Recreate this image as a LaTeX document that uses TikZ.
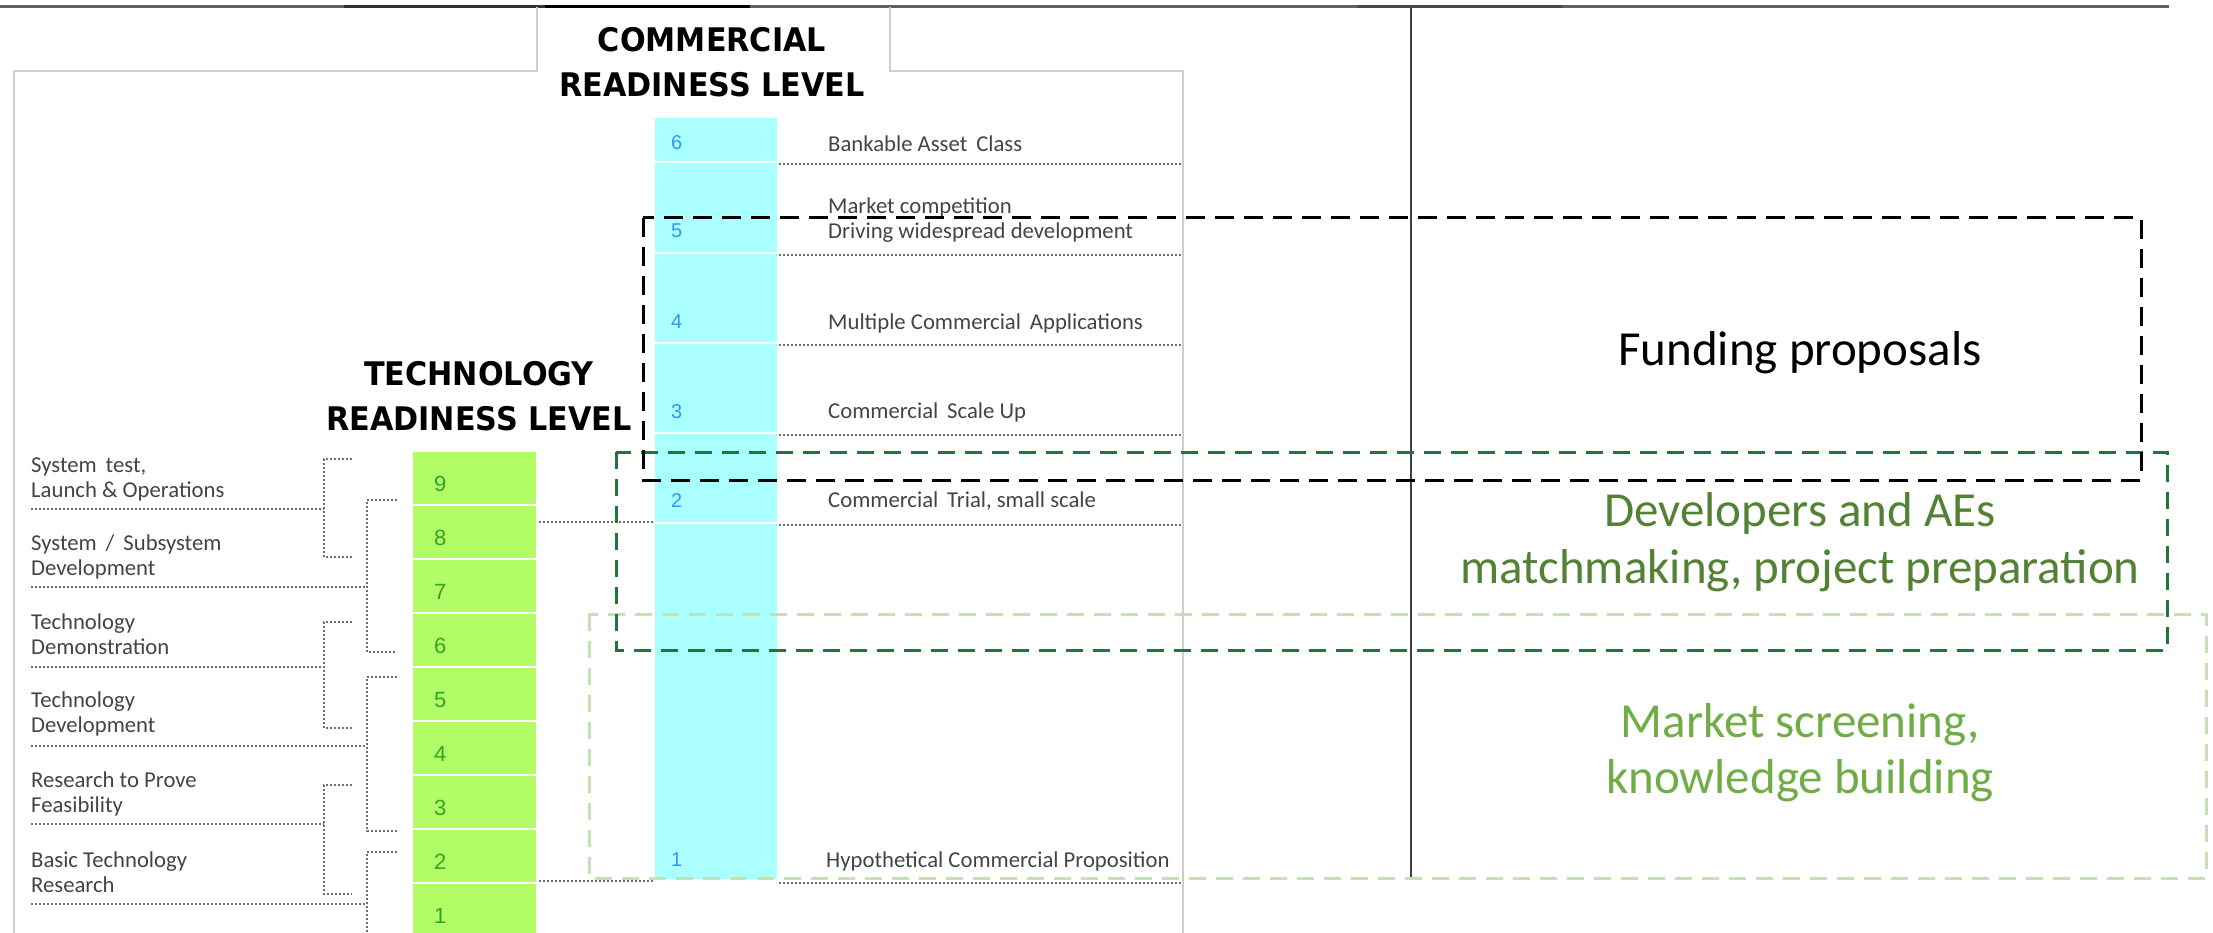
\documentclass[tikz,border=0pt]{standalone}
\usepackage{fontspec}
\usetikzlibrary{calc}
\setmainfont{Carlito}
\newfontfamily\headfont[FakeStretch=0.93]{DejaVu Sans}
\newfontfamily\digitfont{Liberation Sans}

\definecolor{cyancell}{RGB}{170,255,255}
\definecolor{limecell}{RGB}{178,252,102}
\definecolor{cnumcol}{RGB}{50,150,240}
\definecolor{tnumcol}{RGB}{50,165,40}
\definecolor{labelgray}{RGB}{64,70,70}
\definecolor{dotgray}{RGB}{110,110,110}
\definecolor{framegray}{RGB}{205,205,205}
\definecolor{boxdark}{RGB}{28,120,58}
\definecolor{boxlight}{RGB}{197,224,180}
\definecolor{txtdark}{RGB}{84,130,53}
\definecolor{txtlight}{RGB}{112,173,71}

\tikzset{
  ccell/.style={rectangle, fill=cyancell, draw=white, line width=2.5pt,
    minimum width=124pt, inner sep=0pt},
  tcell/.style={rectangle, fill=limecell, draw=white, line width=2.5pt,
    minimum width=126pt, minimum height=54pt, inner sep=0pt},
  smalltxt/.style={inner sep=0pt, anchor=base west, text=labelgray,
    font=\fontsize{22.7}{25}\selectfont},
  cnum/.style={inner sep=0pt, anchor=base west, text=cnumcol,
    font=\digitfont\fontsize{20}{20}\selectfont},
  tnum/.style={inner sep=0pt, anchor=base west, text=tnumcol,
    font=\digitfont\fontsize{22}{22}\selectfont},
  headtxt/.style={inner sep=0pt, anchor=base,
    font=\headfont\bfseries\fontsize{32.5}{36}\selectfont},
  bigtxt/.style={inner sep=0pt, anchor=base, font=\fontsize{49}{56}\selectfont},
  dotline/.style={draw=dotgray, line width=1.8pt, dash pattern=on 1.8pt off 2.2pt},
  frameline/.style={draw=framegray, line width=1.8pt},
  fundbox/.style={draw=black, line width=3pt, dash pattern=on 19pt off 10pt},
  devbox/.style={draw=boxdark, line width=3pt, dash pattern=on 17pt off 10pt},
  screenbox/.style={draw=boxlight, line width=3pt, dash pattern=on 17pt off 10pt},
}

% bracket: x of spine, top, bottom, junction y, tick end x
\newcommand\trlbracket[5]{%
  \draw[dotline] (#5,#2) -- (#1,#2) -- (#1,#3) -- (#5,#3);
  \draw[dotline] (31,#4) -- (#1,#4);
}

\begin{document}
\begin{tikzpicture}[x=1pt,y=-1pt]
\useasboundingbox (0,0) rectangle (2213,933);
\fill[white] (0,0) rectangle (2213,933);
\clip (0,0) rectangle (2213,933);

% page rule along the top
\draw[line width=3pt, draw=gray!75!black] (0,7) -- (2169,7);
\draw[line width=3pt, draw=gray!40!black] (344,7) -- (545,7);
\draw[line width=3pt, draw=black] (545,7) -- (750,7);
\draw[line width=3pt, draw=gray!55!black] (1358,7) -- (1562,7);

% frame with title tab
\draw[frameline] (14,940) -- (14,71) -- (537,71) -- (537,7);
\draw[frameline] (890,7) -- (890,71) -- (1183,71) -- (1183,940);
\coordinate (fr) at (1183,0);

% vertical divider
\draw[line width=1.8pt, draw=black!75] (1411,8) -- (1411,877);

% commercial readiness column
\node[ccell, minimum height=45pt]  (c6) at (716,139.5) {};
\node[ccell, minimum height=91pt]  (c5) at (716,207.5) {};
\node[ccell, minimum height=90pt]  (c4) at (716,298) {};
\node[ccell, minimum height=90pt]  (c3) at (716,388) {};
\node[ccell, minimum height=90pt]  (c2) at (716,478) {};
\node[ccell, minimum height=357pt] (c1) at (716,701.5) {};

% technology readiness column
\foreach \n/\y in {9/478,8/532,7/586,6/640,5/694,4/748,3/802,2/856,1/910}{
  \node[tcell] (t\n) at (474.5,\y) {};
  \node[tnum] (t\n num) at (434,\y+13) {\n};
}

% dotted rules beside the commercial levels
\foreach \c in {c6,c5,c4,c3,c2}{
  \draw[dotline] ($(\c.south east)+(0,1)$) -- ($(\c.south east -| fr)+(0,1)$);
}
\draw[dotline] ($(c1.south east)+(0,2)$) -- ($(c1.south east -| fr)+(0,2)$);
\draw[dotline] (t8.east |- c1.north west) -- (c1.north west);
\draw[dotline] (t2.east |- c1.south west) -- (c1.south west);

% commercial level numbers
\node[cnum] (c6num) at (671,150) {6};
\node[cnum] (c5num) at (671,238) {5};
\node[cnum] (c4num) at (671,328) {4};
\node[cnum] (c3num) at (671,418) {3};
\node[cnum] (c2num) at (671,507) {2};
\node[cnum] (c1num) at (671,866) {1};

% commercial level descriptions
\node[smalltxt] (d6)  at (828,152) {Bankable Asset\, Class};
\node[smalltxt] (d5a) at (828,214) {Market competition};
\node[smalltxt] (d5b) at (828,239) {Driving widespread development};
\node[smalltxt] (d4)  at (828,329) {Multiple Commercial\, Applications};
\node[smalltxt] (d3)  at (828,418) {Commercial\, Scale Up};
\node[smalltxt] (d2)  at (828,507) {Commercial\, Trial, small scale};
\node[smalltxt] (d1)  at (826,867) {Hypothetical Commercial Proposition};

% technology phase labels
\node[smalltxt] (p1a) at (31,472) {System\, test,};
\node[smalltxt] (p1b) at (31,497) {Launch \& Operations};
\node[smalltxt] (p2a) at (31,550) {System\, /\, Subsystem};
\node[smalltxt] (p2b) at (31,575) {Development};
\node[smalltxt] (p3a) at (31,629) {Technology};
\node[smalltxt] (p3b) at (31,654) {Demonstration};
\node[smalltxt] (p4a) at (31,707) {Technology};
\node[smalltxt] (p4b) at (31,732) {Development};
\node[smalltxt] (p5a) at (31,787) {Research to Prove};
\node[smalltxt] (p5b) at (31,812) {Feasibility};
\node[smalltxt] (p6a) at (31,867) {Basic Technology};
\node[smalltxt] (p6b) at (31,892) {Research};

% brackets grouping the technology levels
\trlbracket{324}{459}{557}{509}{352}
\trlbracket{367}{500}{652}{587}{397}
\trlbracket{324}{622}{728}{667}{352}
\trlbracket{367}{677}{831}{746}{397}
\trlbracket{324}{785}{894}{824}{352}
\trlbracket{367}{852}{960}{904}{397}

% column titles
\node[headtxt] (crl1) at (712,52)  {COMMERCIAL};
\node[headtxt] (crl2) at (712,97)  {READINESS LEVEL};
\node[headtxt] (trl1) at (479,385) {TECHNOLOGY};
\node[headtxt] (trl2) at (479,430) {READINESS LEVEL};

% activity bands
\draw[screenbox] (589,614) rectangle (2206,878);
\draw[devbox]    (616,452) rectangle (2167,650);
\draw[fundbox]   (643,218) rectangle (2141,480);

\node[bigtxt, text=black]     (fund)  at (1800,365) {Funding proposals};
\node[bigtxt, text=txtdark]   (dev1)  at (1800,526) {Developers and AEs};
\node[bigtxt, text=txtdark]   (dev2)  at (1800,583) {matchmaking, project preparation};
\node[bigtxt, text=txtlight]  (scr1)  at (1800,737) {Market screening,};
\node[bigtxt, text=txtlight]  (scr2)  at (1800,793) {knowledge building};
\end{tikzpicture}
\end{document}
